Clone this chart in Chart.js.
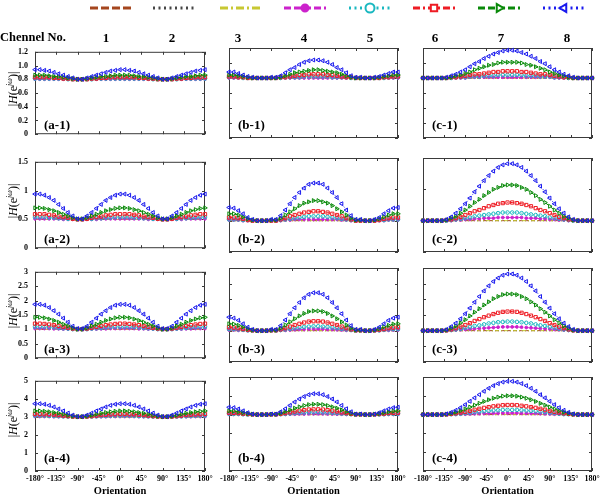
<!DOCTYPE html>
<html>
<head>
<meta charset="utf-8">
<script src="https://cdn.jsdelivr.net/npm/chart.js@4.4.1/dist/chart.umd.min.js"></script>
<style>
  body { margin: 0; background: #fff; width: 600px; height: 498px; position: relative; overflow: hidden; font-family: "Liberation Serif", serif; }
  .txt { position: absolute; white-space: nowrap; color: #000; }
  .yt { position: absolute; white-space: nowrap; font-size: 12px; transform: translate(-50%, -50%) rotate(-90deg); }
  .yt sup { font-size: 8px; }
</style>
</head>
<body>
<canvas id="legend" width="600" height="20" style="position:absolute;left:0;top:0"></canvas>
<script>
// orientation (degrees)
const angles = [-180,-170,-160,-150,-140,-130,-120,-110,-100,-90,-80,-70,-60,-50,-40,-30,-20,-10,0,10,20,30,40,50,60,70,80,90,100,110,120,130,140,150,160,170,180];

const xTicks = [-180, -135, -90, -45, 0, 45, 90, 135, 180];
const channels = ['1', '2', '3', '4', '5', '6', '7', '8'];

// flat channels (1-3) sit on the baseline of each row
const base08 = [0.8,0.8,0.8,0.8,0.8,0.8,0.8,0.8,0.8,0.8,0.8,0.8,0.8,0.8,0.8,0.8,0.8,0.8,0.8,0.8,0.8,0.8,0.8,0.8,0.8,0.8,0.8,0.8,0.8,0.8,0.8,0.8,0.8,0.8,0.8,0.8,0.8];
const base05 = [0.5,0.5,0.5,0.5,0.5,0.5,0.5,0.5,0.5,0.5,0.5,0.5,0.5,0.5,0.5,0.5,0.5,0.5,0.5,0.5,0.5,0.5,0.5,0.5,0.5,0.5,0.5,0.5,0.5,0.5,0.5,0.5,0.5,0.5,0.5,0.5,0.5];
const base10 = [1,1,1,1,1,1,1,1,1,1,1,1,1,1,1,1,1,1,1,1,1,1,1,1,1,1,1,1,1,1,1,1,1,1,1,1,1];
const base30 = [3,3,3,3,3,3,3,3,3,3,3,3,3,3,3,3,3,3,3,3,3,3,3,3,3,3,3,3,3,3,3,3,3,3,3,3,3];

// ---- row 1 ----
const a1_5 = [0.81,0.81,0.81,0.81,0.81,0.81,0.81,0.80,0.80,0.80,0.80,0.80,0.80,0.81,0.81,0.81,0.81,0.81,0.81,0.81,0.81,0.81,0.81,0.81,0.81,0.80,0.80,0.80,0.80,0.80,0.80,0.81,0.81,0.81,0.81,0.81,0.81];
const a1_6 = [0.83,0.83,0.83,0.83,0.82,0.82,0.81,0.81,0.80,0.80,0.80,0.80,0.81,0.81,0.82,0.82,0.83,0.83,0.83,0.83,0.83,0.83,0.82,0.82,0.81,0.81,0.80,0.80,0.80,0.80,0.81,0.81,0.82,0.82,0.83,0.83,0.83];
const a1_7 = [0.86,0.86,0.86,0.85,0.84,0.84,0.83,0.82,0.81,0.80,0.80,0.81,0.82,0.83,0.84,0.84,0.85,0.86,0.86,0.86,0.86,0.85,0.84,0.84,0.83,0.82,0.81,0.80,0.80,0.81,0.82,0.83,0.84,0.84,0.85,0.86,0.86];
const a1_8 = [0.94,0.94,0.93,0.92,0.90,0.88,0.86,0.84,0.82,0.80,0.80,0.82,0.84,0.86,0.88,0.90,0.92,0.93,0.94,0.94,0.93,0.92,0.90,0.88,0.86,0.84,0.82,0.80,0.80,0.82,0.84,0.86,0.88,0.90,0.92,0.93,0.94];

const b1_5 = [0.81,0.81,0.81,0.80,0.80,0.80,0.80,0.80,0.80,0.80,0.80,0.80,0.81,0.81,0.81,0.81,0.82,0.82,0.82,0.82,0.82,0.82,0.81,0.81,0.81,0.81,0.80,0.80,0.80,0.80,0.80,0.80,0.80,0.80,0.81,0.81,0.81];
const b1_6 = [0.82,0.82,0.81,0.81,0.80,0.80,0.80,0.80,0.80,0.80,0.80,0.81,0.81,0.82,0.83,0.84,0.84,0.85,0.85,0.85,0.85,0.84,0.84,0.83,0.82,0.81,0.81,0.80,0.80,0.80,0.80,0.80,0.80,0.81,0.81,0.82,0.82];
const b1_7 = [0.84,0.84,0.83,0.82,0.81,0.80,0.80,0.80,0.80,0.80,0.80,0.81,0.83,0.85,0.87,0.88,0.89,0.90,0.91,0.91,0.90,0.89,0.88,0.87,0.85,0.83,0.81,0.80,0.80,0.80,0.80,0.80,0.81,0.82,0.83,0.84,0.84];
const b1_8 = [0.88,0.88,0.86,0.84,0.82,0.81,0.80,0.80,0.80,0.81,0.81,0.83,0.87,0.91,0.94,0.98,1.01,1.03,1.04,1.04,1.03,1.01,0.98,0.94,0.91,0.87,0.83,0.81,0.81,0.80,0.80,0.81,0.82,0.84,0.86,0.88,0.88];

const c1_4 = [0.80,0.80,0.80,0.80,0.80,0.80,0.80,0.80,0.80,0.80,0.81,0.81,0.81,0.81,0.81,0.81,0.81,0.81,0.81,0.81,0.81,0.81,0.81,0.81,0.81,0.81,0.81,0.81,0.80,0.80,0.80,0.80,0.80,0.80,0.80,0.80,0.80];
const c1_5 = [0.80,0.80,0.80,0.80,0.80,0.80,0.80,0.81,0.81,0.81,0.82,0.82,0.82,0.83,0.83,0.83,0.84,0.84,0.84,0.84,0.84,0.84,0.83,0.83,0.83,0.82,0.82,0.82,0.81,0.81,0.81,0.80,0.80,0.80,0.80,0.80,0.80];
const c1_6 = [0.80,0.80,0.80,0.80,0.80,0.80,0.81,0.81,0.82,0.83,0.84,0.85,0.85,0.86,0.87,0.88,0.88,0.89,0.89,0.89,0.89,0.88,0.88,0.87,0.86,0.85,0.85,0.84,0.83,0.82,0.81,0.81,0.80,0.80,0.80,0.80,0.80];
const c1_7 = [0.80,0.80,0.80,0.80,0.80,0.80,0.81,0.83,0.84,0.86,0.88,0.91,0.93,0.95,0.97,0.98,1.00,1.01,1.01,1.01,1.01,1.00,0.98,0.97,0.95,0.93,0.91,0.88,0.86,0.84,0.83,0.81,0.80,0.80,0.80,0.80,0.80];
const c1_8 = [0.80,0.80,0.80,0.80,0.80,0.81,0.83,0.85,0.88,0.91,0.95,0.99,1.02,1.06,1.09,1.12,1.14,1.16,1.17,1.17,1.16,1.14,1.12,1.09,1.06,1.02,0.99,0.95,0.91,0.88,0.85,0.83,0.81,0.80,0.80,0.80,0.80];

// ---- row 2 ----
const a2_4 = [0.51,0.51,0.51,0.51,0.51,0.51,0.50,0.50,0.50,0.50,0.50,0.50,0.50,0.50,0.51,0.51,0.51,0.51,0.51,0.51,0.51,0.51,0.51,0.51,0.50,0.50,0.50,0.50,0.50,0.50,0.50,0.50,0.51,0.51,0.51,0.51,0.51];
const a2_5 = [0.54,0.54,0.54,0.53,0.53,0.52,0.52,0.51,0.51,0.50,0.50,0.51,0.51,0.52,0.52,0.53,0.53,0.54,0.54,0.54,0.54,0.53,0.53,0.52,0.52,0.51,0.51,0.50,0.50,0.51,0.51,0.52,0.52,0.53,0.53,0.54,0.54];
const a2_6 = [0.59,0.59,0.59,0.58,0.57,0.55,0.54,0.53,0.51,0.50,0.50,0.51,0.53,0.54,0.55,0.57,0.58,0.59,0.59,0.59,0.59,0.58,0.57,0.55,0.54,0.53,0.51,0.50,0.50,0.51,0.53,0.54,0.55,0.57,0.58,0.59,0.59];
const a2_7 = [0.70,0.70,0.69,0.67,0.65,0.62,0.59,0.56,0.53,0.51,0.51,0.53,0.56,0.59,0.62,0.65,0.67,0.69,0.70,0.70,0.69,0.67,0.65,0.62,0.59,0.56,0.53,0.51,0.51,0.53,0.56,0.59,0.62,0.65,0.67,0.69,0.70];
const a2_8 = [0.94,0.94,0.92,0.88,0.83,0.76,0.69,0.62,0.56,0.51,0.51,0.56,0.62,0.69,0.76,0.83,0.88,0.92,0.94,0.94,0.92,0.88,0.83,0.76,0.69,0.62,0.56,0.51,0.51,0.56,0.62,0.69,0.76,0.83,0.88,0.92,0.94];

const b2_4 = [0.51,0.51,0.51,0.50,0.50,0.50,0.50,0.50,0.50,0.50,0.50,0.50,0.51,0.51,0.52,0.52,0.52,0.52,0.52,0.52,0.52,0.52,0.52,0.52,0.51,0.51,0.50,0.50,0.50,0.50,0.50,0.50,0.50,0.50,0.51,0.51,0.51];
const b2_5 = [0.52,0.52,0.52,0.51,0.51,0.50,0.50,0.50,0.50,0.50,0.50,0.51,0.52,0.53,0.54,0.55,0.56,0.57,0.57,0.57,0.57,0.56,0.55,0.54,0.53,0.52,0.51,0.50,0.50,0.50,0.50,0.50,0.51,0.51,0.52,0.52,0.52];
const b2_6 = [0.55,0.55,0.54,0.53,0.51,0.50,0.50,0.50,0.50,0.50,0.50,0.52,0.54,0.57,0.59,0.61,0.63,0.64,0.65,0.65,0.64,0.63,0.61,0.59,0.57,0.54,0.52,0.50,0.50,0.50,0.50,0.50,0.51,0.53,0.54,0.55,0.55];
const b2_7 = [0.61,0.61,0.59,0.56,0.53,0.51,0.50,0.50,0.50,0.51,0.51,0.54,0.59,0.64,0.69,0.74,0.78,0.80,0.82,0.82,0.80,0.78,0.74,0.69,0.64,0.59,0.54,0.51,0.51,0.50,0.50,0.51,0.53,0.56,0.59,0.61,0.61];
const b2_8 = [0.71,0.70,0.66,0.61,0.55,0.52,0.50,0.50,0.50,0.52,0.52,0.58,0.67,0.77,0.87,0.95,1.02,1.08,1.10,1.10,1.08,1.02,0.95,0.87,0.77,0.67,0.58,0.52,0.52,0.50,0.50,0.52,0.55,0.61,0.66,0.70,0.71];

const c2_4 = [0.50,0.50,0.50,0.50,0.50,0.50,0.50,0.51,0.51,0.52,0.52,0.53,0.53,0.54,0.54,0.54,0.55,0.55,0.55,0.55,0.55,0.55,0.54,0.54,0.54,0.53,0.53,0.52,0.52,0.51,0.51,0.50,0.50,0.50,0.50,0.50,0.50];
const c2_5 = [0.50,0.50,0.50,0.50,0.50,0.50,0.51,0.52,0.53,0.54,0.55,0.57,0.58,0.59,0.60,0.61,0.62,0.63,0.63,0.63,0.63,0.62,0.61,0.60,0.59,0.58,0.57,0.55,0.54,0.53,0.52,0.51,0.50,0.50,0.50,0.50,0.50];
const c2_6 = [0.50,0.50,0.50,0.50,0.50,0.51,0.52,0.54,0.56,0.59,0.62,0.65,0.67,0.70,0.73,0.75,0.77,0.78,0.79,0.79,0.78,0.77,0.75,0.73,0.70,0.67,0.65,0.62,0.59,0.56,0.54,0.52,0.51,0.50,0.50,0.50,0.50];
const c2_7 = [0.50,0.50,0.50,0.50,0.50,0.51,0.54,0.57,0.62,0.67,0.73,0.79,0.84,0.90,0.95,1.00,1.03,1.06,1.07,1.07,1.06,1.03,1.00,0.95,0.90,0.84,0.79,0.73,0.67,0.62,0.57,0.54,0.51,0.50,0.50,0.50,0.50];
const c2_8 = [0.50,0.50,0.50,0.50,0.50,0.52,0.56,0.62,0.69,0.77,0.86,0.96,1.05,1.14,1.22,1.29,1.35,1.39,1.41,1.41,1.39,1.35,1.29,1.22,1.14,1.05,0.96,0.86,0.77,0.69,0.62,0.56,0.52,0.50,0.50,0.50,0.50];

// ---- row 3 ----
const a3_4 = [1.03,1.03,1.03,1.03,1.02,1.02,1.01,1.01,1.00,1.00,1.00,1.00,1.01,1.01,1.02,1.02,1.03,1.03,1.03,1.03,1.03,1.03,1.02,1.02,1.01,1.01,1.00,1.00,1.00,1.00,1.01,1.01,1.02,1.02,1.03,1.03,1.03];
const a3_5 = [1.09,1.09,1.09,1.08,1.07,1.05,1.04,1.03,1.01,1.00,1.00,1.01,1.03,1.04,1.05,1.07,1.08,1.09,1.09,1.09,1.09,1.08,1.07,1.05,1.04,1.03,1.01,1.00,1.00,1.01,1.03,1.04,1.05,1.07,1.08,1.09,1.09];
const a3_6 = [1.20,1.20,1.19,1.17,1.15,1.12,1.09,1.06,1.03,1.01,1.01,1.03,1.06,1.09,1.12,1.15,1.17,1.19,1.20,1.20,1.19,1.17,1.15,1.12,1.09,1.06,1.03,1.01,1.01,1.03,1.06,1.09,1.12,1.15,1.17,1.19,1.20];
const a3_7 = [1.42,1.42,1.40,1.36,1.31,1.25,1.18,1.12,1.05,1.01,1.01,1.05,1.12,1.18,1.25,1.31,1.36,1.40,1.42,1.42,1.40,1.36,1.31,1.25,1.18,1.12,1.05,1.01,1.01,1.05,1.12,1.18,1.25,1.31,1.36,1.40,1.42];
const a3_8 = [1.87,1.87,1.84,1.76,1.65,1.53,1.39,1.25,1.11,1.03,1.03,1.11,1.25,1.39,1.53,1.65,1.76,1.84,1.87,1.87,1.84,1.76,1.65,1.53,1.39,1.25,1.11,1.03,1.03,1.11,1.25,1.39,1.53,1.65,1.76,1.84,1.87];

const b3_4 = [1.02,1.02,1.01,1.01,1.00,1.00,1.00,1.00,1.00,1.00,1.00,1.01,1.01,1.02,1.03,1.04,1.04,1.05,1.05,1.05,1.05,1.04,1.04,1.03,1.02,1.01,1.01,1.00,1.00,1.00,1.00,1.00,1.00,1.01,1.01,1.02,1.02];
const b3_5 = [1.05,1.05,1.04,1.03,1.01,1.00,1.00,1.00,1.00,1.00,1.00,1.02,1.04,1.06,1.08,1.10,1.12,1.13,1.14,1.14,1.13,1.12,1.10,1.08,1.06,1.04,1.02,1.00,1.00,1.00,1.00,1.00,1.01,1.03,1.04,1.05,1.05];
const b3_6 = [1.11,1.10,1.08,1.05,1.03,1.01,1.00,1.00,1.00,1.01,1.01,1.04,1.08,1.13,1.18,1.22,1.26,1.29,1.30,1.30,1.29,1.26,1.22,1.18,1.13,1.08,1.04,1.01,1.01,1.00,1.00,1.01,1.03,1.05,1.08,1.10,1.11];
const b3_7 = [1.22,1.21,1.17,1.12,1.06,1.02,1.00,1.00,1.00,1.02,1.02,1.08,1.18,1.28,1.38,1.47,1.55,1.61,1.63,1.63,1.61,1.55,1.47,1.38,1.28,1.18,1.08,1.02,1.02,1.00,1.00,1.02,1.06,1.12,1.17,1.21,1.22];
const b3_8 = [1.43,1.40,1.33,1.22,1.11,1.04,1.00,1.00,1.00,1.04,1.04,1.16,1.34,1.54,1.73,1.90,2.05,2.16,2.21,2.21,2.16,2.05,1.90,1.73,1.54,1.34,1.16,1.04,1.04,1.00,1.00,1.04,1.11,1.22,1.33,1.40,1.43];

const c3_4 = [1,1,1,1,1,1.00,1.01,1.02,1.03,1.04,1.05,1.06,1.07,1.08,1.09,1.10,1.11,1.12,1.12,1.12,1.12,1.11,1.10,1.09,1.08,1.07,1.06,1.05,1.04,1.03,1.02,1.01,1.00,1,1,1,1];
const c3_5 = [1,1,1,1,1,1.01,1.02,1.04,1.06,1.09,1.12,1.15,1.17,1.20,1.23,1.25,1.27,1.28,1.29,1.29,1.28,1.27,1.25,1.23,1.20,1.17,1.15,1.12,1.09,1.06,1.04,1.02,1.01,1,1,1,1];
const c3_6 = [1,1,1,1,1,1.01,1.04,1.08,1.13,1.18,1.24,1.31,1.37,1.43,1.48,1.53,1.57,1.60,1.61,1.61,1.60,1.57,1.53,1.48,1.43,1.37,1.31,1.24,1.18,1.13,1.08,1.04,1.01,1,1,1,1];
const c3_7 = [1,1,1,1,1,1.02,1.08,1.15,1.25,1.35,1.47,1.59,1.70,1.82,1.92,2.02,2.09,2.15,2.17,2.17,2.15,2.09,2.02,1.92,1.82,1.70,1.59,1.47,1.35,1.25,1.15,1.08,1.02,1,1,1,1];
const c3_8 = [1,1,1,1,1,1.04,1.13,1.24,1.38,1.54,1.72,1.91,2.09,2.27,2.43,2.57,2.68,2.77,2.81,2.81,2.77,2.68,2.57,2.43,2.27,2.09,1.91,1.72,1.54,1.38,1.24,1.13,1.04,1,1,1,1];

// ---- row 4 ----
const a4_4 = [3.02,3.02,3.02,3.02,3.01,3.01,3.01,3.01,3.00,3.00,3.00,3.00,3.01,3.01,3.01,3.01,3.02,3.02,3.02,3.02,3.02,3.02,3.01,3.01,3.01,3.01,3.00,3.00,3.00,3.00,3.01,3.01,3.01,3.01,3.02,3.02,3.02];
const a4_5 = [3.07,3.07,3.07,3.06,3.05,3.04,3.03,3.02,3.01,3.00,3.00,3.01,3.02,3.03,3.04,3.05,3.06,3.07,3.07,3.07,3.07,3.06,3.05,3.04,3.03,3.02,3.01,3.00,3.00,3.01,3.02,3.03,3.04,3.05,3.06,3.07,3.07];
const a4_6 = [3.16,3.16,3.15,3.14,3.12,3.10,3.07,3.04,3.02,3.00,3.00,3.02,3.04,3.07,3.10,3.12,3.14,3.15,3.16,3.16,3.15,3.14,3.12,3.10,3.07,3.04,3.02,3.00,3.00,3.02,3.04,3.07,3.10,3.12,3.14,3.15,3.16];
const a4_7 = [3.33,3.33,3.31,3.28,3.24,3.20,3.15,3.09,3.04,3.01,3.01,3.04,3.09,3.15,3.20,3.24,3.28,3.31,3.33,3.33,3.31,3.28,3.24,3.20,3.15,3.09,3.04,3.01,3.01,3.04,3.09,3.15,3.20,3.24,3.28,3.31,3.33];
const a4_8 = [3.73,3.73,3.70,3.64,3.55,3.44,3.33,3.21,3.10,3.02,3.02,3.10,3.21,3.33,3.44,3.55,3.64,3.70,3.73,3.73,3.70,3.64,3.55,3.44,3.33,3.21,3.10,3.02,3.02,3.10,3.21,3.33,3.44,3.55,3.64,3.70,3.73];

const b4_4 = [3.01,3.01,3.01,3.01,3.00,3.00,3.00,3.00,3.00,3.00,3.00,3.01,3.01,3.02,3.02,3.03,3.03,3.04,3.04,3.04,3.04,3.03,3.03,3.02,3.02,3.01,3.01,3.00,3.00,3.00,3.00,3.00,3.00,3.01,3.01,3.01,3.01];
const b4_5 = [3.05,3.04,3.04,3.02,3.01,3.00,3.00,3.00,3.00,3.00,3.00,3.02,3.04,3.06,3.08,3.10,3.11,3.12,3.13,3.13,3.12,3.11,3.10,3.08,3.06,3.04,3.02,3.00,3.00,3.00,3.00,3.00,3.01,3.02,3.04,3.04,3.05];
const b4_6 = [3.10,3.09,3.08,3.05,3.03,3.01,3.00,3.00,3.00,3.01,3.01,3.04,3.08,3.12,3.17,3.21,3.24,3.27,3.28,3.28,3.27,3.24,3.21,3.17,3.12,3.08,3.04,3.01,3.01,3.00,3.00,3.01,3.03,3.05,3.08,3.09,3.10];
const b4_7 = [3.20,3.18,3.15,3.10,3.05,3.02,3.00,3.00,3.00,3.02,3.02,3.07,3.16,3.25,3.34,3.41,3.48,3.53,3.55,3.55,3.53,3.48,3.41,3.34,3.25,3.16,3.07,3.02,3.02,3.00,3.00,3.02,3.05,3.10,3.15,3.18,3.20];
const b4_8 = [3.39,3.37,3.30,3.20,3.10,3.03,3.00,3.00,3.00,3.03,3.03,3.15,3.31,3.49,3.67,3.83,3.96,4.06,4.11,4.11,4.06,3.96,3.83,3.67,3.49,3.31,3.15,3.03,3.03,3.00,3.00,3.03,3.10,3.20,3.30,3.37,3.39];

const c4_4 = [3,3,3,3,3,3.00,3.01,3.01,3.02,3.02,3.03,3.04,3.05,3.06,3.06,3.07,3.07,3.08,3.08,3.08,3.08,3.07,3.07,3.06,3.06,3.05,3.04,3.03,3.02,3.02,3.01,3.01,3.00,3,3,3,3];
const c4_5 = [3,3,3,3,3,3.01,3.02,3.03,3.05,3.08,3.10,3.13,3.15,3.18,3.20,3.22,3.23,3.25,3.25,3.25,3.25,3.23,3.22,3.20,3.18,3.15,3.13,3.10,3.08,3.05,3.03,3.02,3.01,3,3,3,3];
const c4_6 = [3,3,3,3,3,3.01,3.04,3.07,3.11,3.15,3.20,3.26,3.31,3.36,3.40,3.44,3.47,3.50,3.51,3.51,3.50,3.47,3.44,3.40,3.36,3.31,3.26,3.20,3.15,3.11,3.07,3.04,3.01,3,3,3,3];
const c4_7 = [3,3,3,3,3,3.02,3.07,3.13,3.21,3.30,3.40,3.50,3.60,3.70,3.79,3.87,3.93,3.98,4.00,4.00,3.98,3.93,3.87,3.79,3.70,3.60,3.50,3.40,3.30,3.21,3.13,3.07,3.02,3,3,3,3];
const c4_8 = [3,3,3,3,3,3.04,3.12,3.23,3.37,3.53,3.71,3.89,4.06,4.24,4.40,4.54,4.65,4.73,4.77,4.77,4.73,4.65,4.54,4.40,4.24,4.06,3.89,3.71,3.53,3.37,3.23,3.12,3.04,3,3,3,3];

const panels = [
  { name: '(a-1)', row: 0, col: 0, data: [base08, base08, base08, base08, a1_5, a1_6, a1_7, a1_8] },
  { name: '(b-1)', row: 0, col: 1, data: [base08, base08, base08, base08, b1_5, b1_6, b1_7, b1_8] },
  { name: '(c-1)', row: 0, col: 2, data: [base08, base08, base08, c1_4, c1_5, c1_6, c1_7, c1_8] },
  { name: '(a-2)', row: 1, col: 0, data: [base05, base05, base05, a2_4, a2_5, a2_6, a2_7, a2_8] },
  { name: '(b-2)', row: 1, col: 1, data: [base05, base05, base05, b2_4, b2_5, b2_6, b2_7, b2_8] },
  { name: '(c-2)', row: 1, col: 2, data: [base05, base05, base05, c2_4, c2_5, c2_6, c2_7, c2_8] },
  { name: '(a-3)', row: 2, col: 0, data: [base10, base10, base10, a3_4, a3_5, a3_6, a3_7, a3_8] },
  { name: '(b-3)', row: 2, col: 1, data: [base10, base10, base10, b3_4, b3_5, b3_6, b3_7, b3_8] },
  { name: '(c-3)', row: 2, col: 2, data: [base10, base10, base10, c3_4, c3_5, c3_6, c3_7, c3_8] },
  { name: '(a-4)', row: 3, col: 0, data: [base30, base30, base30, a4_4, a4_5, a4_6, a4_7, a4_8] },
  { name: '(b-4)', row: 3, col: 1, data: [base30, base30, base30, b4_4, b4_5, b4_6, b4_7, b4_8] },
  { name: '(c-4)', row: 3, col: 2, data: [base30, base30, base30, c4_4, c4_5, c4_6, c4_7, c4_8] }
];

// styles per channel
const chanColor = ['#a5461e', '#454545', '#c8c832', '#cc22cc', '#1ab8c0', '#ee1c24', '#0a8a0a', '#1a1aee'];
const chanDash = [[4, 2], [1, 2], [4, 2, 1, 2], [4, 2], [1, 2], [4, 2, 1, 2], [4, 2], [1, 2]];
const legDash = [[8, 3], [2, 3.5], [8, 3, 2, 3], [7, 3], [2, 3.5], [7, 3, 2, 3], [7, 3], [2, 3.5]];
const chanPoint = [null, null, null, 'circle', 'circle', 'rect', 'triangle', 'triangle'];
const chanRot = [0, 0, 0, 0, 0, 0, 90, -90];
const chanRadius = [0, 0, 0, 1.4, 1.8, 2.3, 2.3, 2.3];

// layout
const rowTop = [48, 158, 268, 377];
const rowH = [90, 94, 94, 94];
const colLeft = [35, 229, 423];
const colW = [170, 169, 169];
const yMax = [1.2, 1.5, 3, 5];
const yStep = [0.2, 0.5, 0.5, 1];
const yFmt = [v => v === 0 ? '0' : v.toFixed(1), v => String(v), v => String(v), v => String(v)];
const legendX = [111, 174, 241, 305, 370, 434, 499, 564];
const numberX = [106, 172, 238, 304, 370, 435, 501, 567];

Chart.defaults.font.family = '"Liberation Serif", serif';
Chart.defaults.color = '#000';

// box + inward tick marks like the original figure
const boxTicks = {
  id: 'boxTicks',
  beforeDatasetsDraw(chart) {
    const { ctx, chartArea: { left, top, right, bottom }, scales: { x, y } } = chart;
    ctx.save();
    ctx.strokeStyle = '#3a3a3a';
    ctx.lineWidth = 1;
    ctx.strokeRect(left + 0.5, top + 0.5, right - left - 1, bottom - top - 1);
    ctx.beginPath();
    x.ticks.forEach(t => {
      const px = Math.round(x.getPixelForValue(t.value)) + 0.5;
      ctx.moveTo(px, bottom); ctx.lineTo(px, bottom - 3);
      ctx.moveTo(px, top); ctx.lineTo(px, top + 3);
    });
    y.ticks.forEach(t => {
      const py = Math.round(y.getPixelForValue(t.value)) + 0.5;
      ctx.moveTo(left, py); ctx.lineTo(left + 3, py);
      ctx.moveTo(right, py); ctx.lineTo(right - 3, py);
    });
    ctx.stroke();
    ctx.restore();
  }
};

function addText(html, x, y, css, cls) {
  const d = document.createElement('div');
  d.className = cls || 'txt';
  d.innerHTML = html;
  d.style.cssText = `left:${x}px;top:${y}px;` + (css || '');
  document.body.appendChild(d);
  return d;
}

function makePanel(p) {
  const padL = p.col === 0 ? 34 : 14, padR = 14, padT = 8, padB = p.row === 3 ? 22 : 8;
  const cv = document.createElement('canvas');
  cv.width = colW[p.col] + padL + padR;
  cv.height = rowH[p.row] + padT + padB;
  cv.style.cssText = `position:absolute;left:${colLeft[p.col] - padL}px;top:${rowTop[p.row] - padT}px`;
  document.body.appendChild(cv);

  const datasets = p.data.map((vals, i) => ({
    label: channels[i],
    data: angles.map((a, k) => ({ x: a, y: vals[k] })),
    borderColor: chanColor[i],
    borderWidth: 1,
    borderDash: chanDash[i],
    pointStyle: chanPoint[i] || 'circle',
    pointRotation: chanRot[i],
    pointRadius: chanRadius[i],
    pointBorderColor: chanColor[i],
    pointBackgroundColor: i === 3 ? chanColor[i] : 'rgba(255,255,255,0)',
    pointBorderWidth: 1,
    tension: 0,
    order: 7 - i,
    clip: false
  }));

  new Chart(cv, {
    type: 'line',
    data: { datasets },
    options: {
      responsive: false,
      animation: false,
      devicePixelRatio: 1,
      layout: { padding: { top: padT, right: padR, left: 0, bottom: 0 } },
      plugins: { legend: { display: false }, tooltip: { enabled: false } },
      scales: {
        x: {
          type: 'linear', min: -180, max: 180,
          afterBuildTicks: s => { s.ticks = xTicks.map(v => ({ value: v })); },
          afterFit: s => { s.height = padB; },
          grid: { display: false, drawTicks: false },
          border: { display: false },
          ticks: {
            display: p.row === 3, autoSkip: false, maxRotation: 0, padding: 3,
            font: { size: 8, weight: 'bold' },
            callback: v => v + '°'
          }
        },
        y: {
          min: 0, max: yMax[p.row],
          afterFit: s => { s.width = padL; },
          grid: { display: false, drawTicks: false },
          border: { display: false },
          ticks: {
            display: p.col === 0, stepSize: yStep[p.row], padding: 7,
            font: { size: 8, weight: 'bold' },
            callback: yFmt[p.row]
          }
        }
      }
    },
    plugins: [boxTicks]
  });

  addText(p.name, colLeft[p.col] + 9, rowTop[p.row] + rowH[p.row] - 21, 'font-size:13px;font-weight:bold;');
}

panels.forEach(makePanel);

// y-axis titles and x-axis titles
rowTop.forEach((t, r) => {
  addText('|<i>H</i>(e<sup><i>jω</i></sup>)|', 13, t + rowH[r] / 2 - 4, '', 'yt');
});
colLeft.forEach((l, c) => {
  addText('Orientation', l + colW[c] / 2, 485, 'font-size:10.5px;font-weight:bold;transform:translateX(-50%);');
});

// header: channel numbers
addText('Chennel No.', 0, 30, 'font-size:12.5px;font-weight:bold;');
channels.forEach((c, i) => {
  addText(c, numberX[i], 30, 'font-size:13px;font-weight:bold;transform:translateX(-50%);');
});

// header: line-style keys
const lg = document.getElementById('legend').getContext('2d');
channels.forEach((c, i) => {
  const cx = legendX[i], y = 8;
  lg.save();
  lg.strokeStyle = chanColor[i];
  lg.lineWidth = 3;
  lg.setLineDash(legDash[i]);
  lg.beginPath();
  lg.moveTo(cx - 21, y); lg.lineTo(cx + 21, y);
  lg.stroke();
  lg.setLineDash([]);
  if (chanPoint[i]) {
    lg.fillStyle = i === 3 ? chanColor[i] : '#fff';
    lg.strokeStyle = chanColor[i];
    lg.lineWidth = 2;
    Chart.helpers.drawPoint(lg, { pointStyle: chanPoint[i], rotation: chanRot[i], radius: i === 3 ? 3.5 : 4.5, borderWidth: 2 }, cx, y);
  }
  lg.restore();
});
</script>
</body>
</html>
